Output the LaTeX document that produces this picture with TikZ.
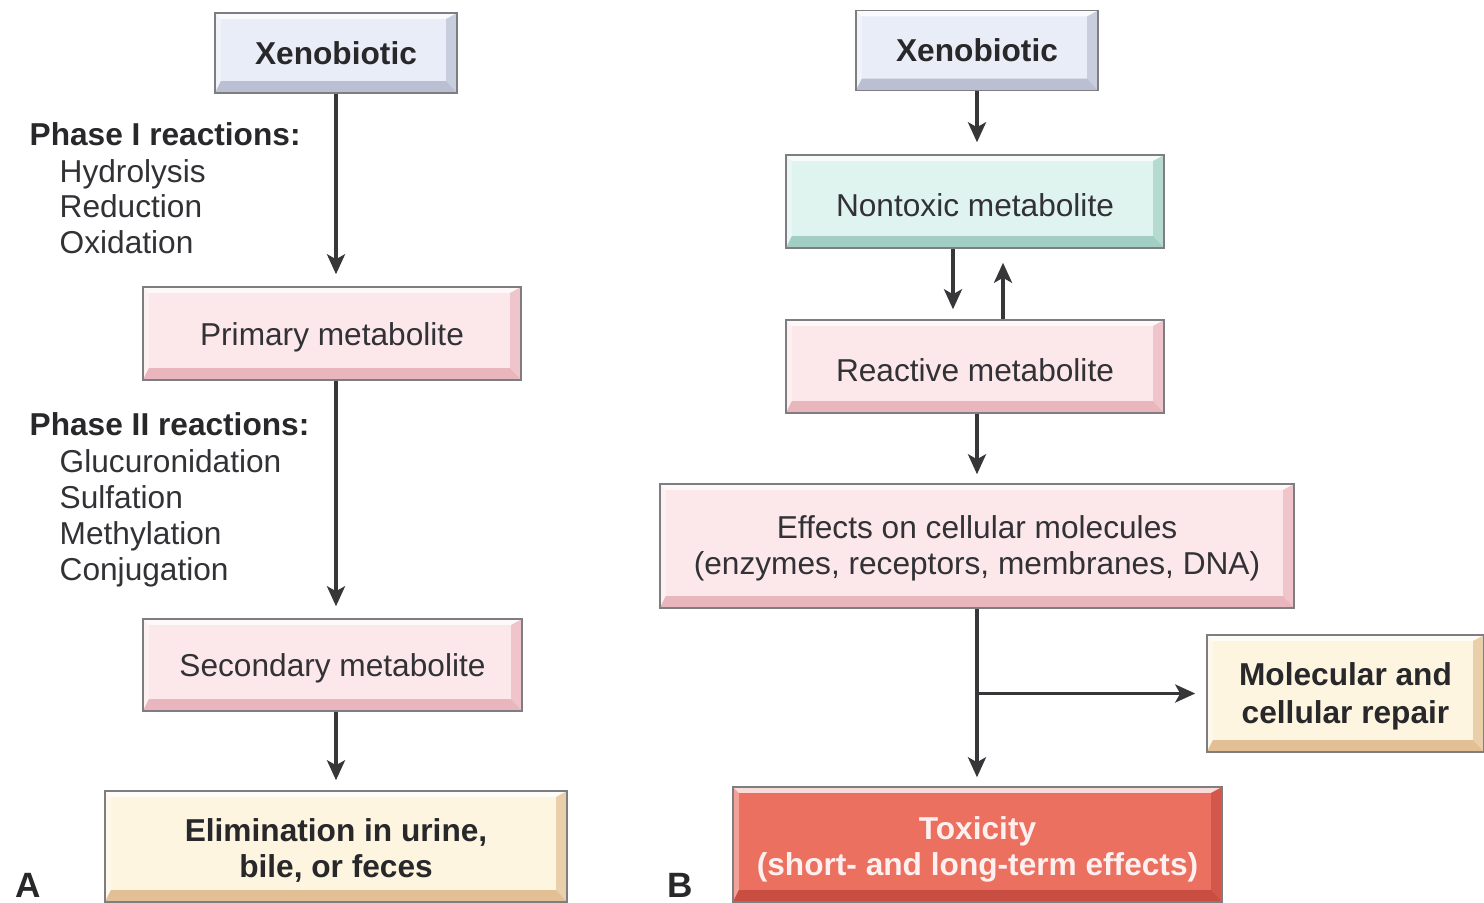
\documentclass[tikz,border=0pt]{standalone}
\usepackage{fontspec}
\setmainfont{Liberation Sans}
\usepackage{tikz}
\usetikzlibrary{arrows.meta, positioning}
\definecolor{inkdark}{RGB}{50, 50, 54}
\definecolor{inkarrow}{RGB}{55, 55, 58}
\definecolor{edgegray}{RGB}{125, 125, 130}
\definecolor{bluebase}{RGB}{233, 237, 247}
\definecolor{blueshade}{RGB}{186, 192, 210}
\definecolor{pinkbase}{RGB}{252, 232, 235}
\definecolor{pinkshade}{RGB}{233, 182, 190}
\definecolor{mintbase}{RGB}{224, 244, 239}
\definecolor{mintshade}{RGB}{162, 207, 195}
\definecolor{creambase}{RGB}{253, 245, 223}
\definecolor{creamshade}{RGB}{226, 191, 148}
\definecolor{redbase}{RGB}{235, 112, 96}
\definecolor{redshade}{RGB}{200, 78, 66}
\newcommand{\txt}{\fontsize{9}{10.2}\selectfont}
\newcommand{\lift}[1]{\rule{0pt}{#1}}
\tikzset{
    slab/.style 2 args={draw=edgegray, line width=0.4pt, fill=#1,
                   inner sep=2pt, align=center, font=\txt, text=inkdark,
                   path picture={
                     \fill[white, opacity=0.75]
                       (path picture bounding box.north west) -- (path picture bounding box.north east)
                       -- ([shift={(-1.1mm,-0.6mm)}]path picture bounding box.north east)
                       -- ([shift={(0.6mm,-0.6mm)}]path picture bounding box.north west) -- cycle;
                     \fill[white, opacity=0.35]
                       (path picture bounding box.north west) -- (path picture bounding box.south west)
                       -- ([shift={(0.6mm,1.2mm)}]path picture bounding box.south west)
                       -- ([shift={(0.6mm,-0.6mm)}]path picture bounding box.north west) -- cycle;
                     \fill[#2!70!#1]
                       (path picture bounding box.north east) -- (path picture bounding box.south east)
                       -- ([shift={(-1.1mm,1.2mm)}]path picture bounding box.south east)
                       -- ([shift={(-1.1mm,-0.6mm)}]path picture bounding box.north east) -- cycle;
                     \fill[#2]
                       (path picture bounding box.south west) -- (path picture bounding box.south east)
                       -- ([shift={(-1.1mm,1.2mm)}]path picture bounding box.south east)
                       -- ([shift={(0.6mm,1.2mm)}]path picture bounding box.south west) -- cycle;
                   }},
    oneline/.style={text height=3mm},
    xeno/.style  ={slab={bluebase}{blueshade}, font=\txt\bfseries, text=inkdark!80!black,
                   minimum width=2.42cm, minimum height=0.8cm},
    metab/.style ={slab={pinkbase}{pinkshade}, minimum width=3.78cm, minimum height=0.93cm},
    safe/.style  ={slab={mintbase}{mintshade}, oneline, minimum width=3.78cm, minimum height=0.93cm},
    outcome/.style={slab={creambase}{creamshade}, font=\txt\bfseries, text=inkdark!80!black},
    harm/.style  ={slab={redbase}{redshade}, font=\txt\bfseries, text=white!94!red},
    ar/.style    ={-{Stealth[length=2mm, width=1.8mm, inset=0.5mm]}, line width=1pt, draw=inkarrow},
    lbl/.style   ={font=\txt, text=inkdark, inner sep=0pt, anchor=base west},
    hd/.style    ={lbl, font=\txt\bfseries, text=inkdark!80!black},
    panel/.style ={font=\fontsize{10}{12}\selectfont\bfseries, text=inkdark!80!black, inner sep=0pt, anchor=base west}
}

\begin{document}
\begin{tikzpicture}[x=0.01cm, y=-0.01cm]
  \useasboundingbox (0,0) rectangle (1484,902);

  % panel A
  \node[xeno] (xenA) at (336,53) {Xenobiotic};
  \node[metab, oneline] (prim) at (332,333.5) {Primary metabolite};
  \node[metab, oneline, minimum width=3.79cm, minimum height=0.92cm] (sec) at (332.5,665) {Secondary metabolite};
  \node[outcome, minimum width=4.62cm, minimum height=1.11cm] (elim) at (336,846.5)
       {\lift{3.1mm}Elimination in urine,\\bile, or feces};

  \node[hd]  (ph1)  at (29,145) {Phase I reactions:};
  \node[lbl] (hyd)  at (59,182) {Hydrolysis};
  \node[lbl] (red)  at (59,217) {Reduction};
  \node[lbl] (oxi)  at (59,253) {Oxidation};

  \node[hd]  (ph2)  at (29,435) {Phase II reactions:};
  \node[lbl] (glu)  at (59,472) {Glucuronidation};
  \node[lbl] (sul)  at (59,508) {Sulfation};
  \node[lbl] (met)  at (59,544) {Methylation};
  \node[lbl] (con)  at (59,580) {Conjugation};

  \draw[ar, shorten >=1.2mm] (xenA.south) -- (xenA.south |- prim.north);
  \draw[ar, shorten >=1.2mm] (prim.south -| xenA) -- (sec.north -| xenA);
  \draw[ar, shorten >=1mm]   (sec.south -| xenA) -- (elim.north -| xenA);

  \node[panel] (tagA) at (15,897) {A};

  % panel B
  \node[xeno] (xenB) at (977,50.5) {Xenobiotic};
  \node[safe] (nontox) at (975,201.5) {Nontoxic metabolite};
  \node[metab, oneline] (react) at (975,366.5) {Reactive metabolite};
  \node[metab, minimum width=6.34cm, minimum height=1.24cm] (effects) at (977,546)
       {\lift{2.7mm}Effects on cellular molecules\\(enzymes, receptors, membranes, DNA)};
  \node[outcome, minimum width=2.77cm, minimum height=1.17cm] (repair) at (1345.5,693.5)
       {\lift{2.9mm}Molecular and\\[0.2mm]cellular repair};
  \node[harm, minimum width=4.89cm, minimum height=1.15cm] (toxic) at (977.5,844.5)
       {\lift{3.3mm}Toxicity\\(short- and long-term effects)};

  \draw[ar, shorten >=1.2mm] (xenB.south) -- (xenB.south |- nontox.north);
  \draw[ar, shorten >=1mm]   ([xshift=-2.2mm]nontox.south) -- ([xshift=-2.2mm]react.north);
  \draw[ar, shorten >=1.4mm] ([xshift=2.8mm]react.north) -- ([xshift=2.8mm]nontox.south);
  \draw[ar, shorten >=0.9mm] (react.south -| xenB) -- (effects.north -| xenB);
  \coordinate (split) at (effects.south |- repair.west);
  \draw[ar, shorten >=0.9mm] (effects.south) -- (toxic.north -| effects.south);
  \draw[ar, shorten >=1.1mm] (split) -- (repair.west);

  \node[panel] (tagB) at (667,897) {B};
\end{tikzpicture}
\end{document}
